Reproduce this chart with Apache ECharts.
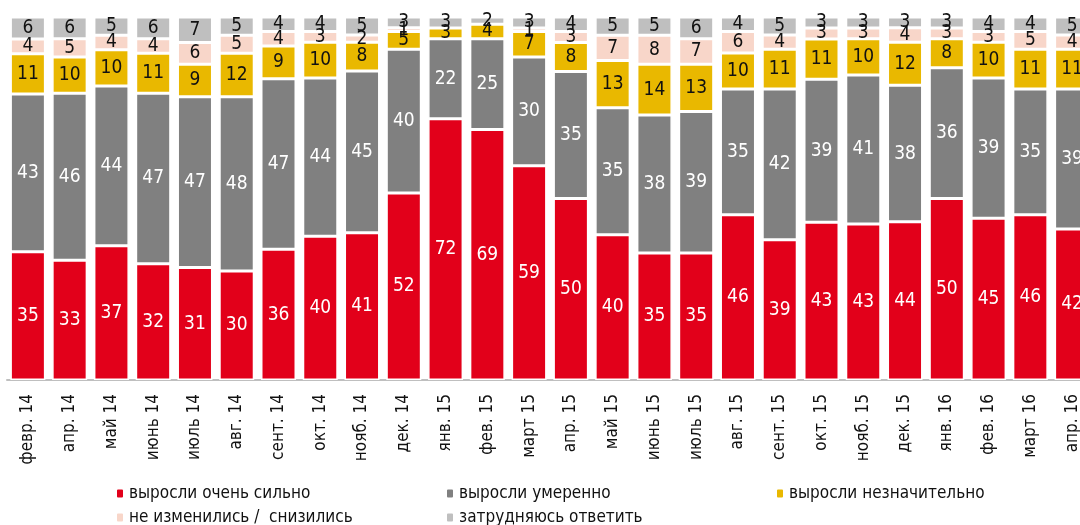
<!DOCTYPE html>
<html>
<head>
<meta charset="utf-8">
<script src="https://cdn.jsdelivr.net/npm/echarts@6/dist/echarts.min.js"></script>
<style>
html, body { margin: 0; padding: 0; background: #fff; overflow: hidden; }
/* canvas is wider than the window so the last bar gets cut like in the source */
#container { width: 1095px; height: 525px; }
</style>
</head>
<body>
<div id="container"></div>
<script>
var categories = ['февр. 14', 'апр. 14', 'май 14', 'июнь 14', 'июль 14', 'авг. 14', 'сент. 14', 'окт. 14', 'нояб. 14', 'дек. 14',
    'янв. 15', 'фев. 15', 'март 15', 'апр. 15', 'май 15', 'июнь 15', 'июль 15', 'авг. 15', 'сент. 15', 'окт. 15',
    'нояб. 15', 'дек. 15', 'янв. 16', 'фев. 16', 'март 16', 'апр. 16'];
var veryStrong = [35, 33, 37, 32, 31, 30, 36, 40, 41, 52, 72, 69, 59, 50, 40, 35, 35, 46, 39, 43, 43, 44, 50, 45, 46, 42];
var moderate = [43, 46, 44, 47, 47, 48, 47, 44, 45, 40, 22, 25, 30, 35, 35, 38, 39, 35, 42, 39, 41, 38, 36, 39, 35, 39];
var slight = [11, 10, 10, 11, 9, 12, 9, 10, 8, 5, 3, 4, 7, 8, 13, 14, 13, 10, 11, 11, 10, 12, 8, 10, 11, 11];
var noChange = [4, 5, 4, 4, 6, 5, 4, 3, 2, 1, 0, 0, 1, 3, 7, 8, 7, 6, 4, 3, 3, 4, 3, 3, 5, 4];
var hardToSay = [6, 6, 5, 6, 7, 5, 4, 4, 5, 3, 3, 2, 3, 4, 5, 5, 6, 4, 5, 3, 3, 3, 3, 4, 4, 5];

var names = ['выросли очень сильно', 'выросли умеренно', 'выросли незначительно', 'не изменились /  снизились', 'затрудняюсь ответить'];
var colors = ['#e2001a', '#808080', '#e9b800', '#f8d6c9', '#bfbfbf'];
var labelColors = ['#fff', '#fff', '#111', '#111', '#111'];
var raw = [veryStrong, moderate, slight, noChange, hardToSay];

var font = '"Liberation Sans Narrow", "DejaVu Sans Condensed", "Noto Sans", sans-serif';

// 100% stacked: share of each answer in the bar total
var totals = categories.map(function (c, i) {
    var s = 0;
    for (var k = 0; k < raw.length; k++) s += raw[k][i];
    return s;
});

var dom = document.getElementById('container');
var myChart = echarts.init(dom);

var series = [];
for (var k = 0; k < raw.length; k++) {
    (function (k) {
        series.push({
            name: names[k],
            type: 'bar',
            stack: 'all',
            barWidth: 35,
            itemStyle: { color: colors[k], borderColor: '#fff', borderWidth: 1.5 },
            label: {
                show: true,
                position: 'inside',
                color: labelColors[k],
                fontFamily: font,
                fontSize: 19,
                formatter: function (p) {
                    var v = raw[k][p.dataIndex];
                    return v ? String(v) : '';
                }
            },
            data: raw[k].map(function (v, i) { return v / totals[i] * 100; })
        });
    })(k);
}

var legendPos = [[110, 480], [440, 480], [770, 480], [110, 504], [440, 504]];
var legends = names.map(function (n, i) {
    return {
        data: [n],
        left: legendPos[i][0],
        top: legendPos[i][1],
        itemWidth: 8,
        itemHeight: 10,
        itemGap: 0,
        textStyle: { fontFamily: font, fontSize: 17, color: '#111' },
        selectedMode: false
    };
});

var option = {
    animation: false,
    grid: { left: 7, width: 1086, top: 17, bottom: 145 },
    legend: legends,
    xAxis: {
        type: 'category',
        data: categories,
        axisLine: { lineStyle: { color: '#bfbfbf', width: 2 } },
        axisTick: { length: 7, lineStyle: { color: '#bfbfbf', width: 2 } },
        axisLabel: { rotate: 90, margin: 14, fontSize: 17, color: '#111', fontFamily: font, interval: 0 }
    },
    yAxis: { type: 'value', min: 0, max: 100, show: false },
    series: series
};

myChart.setOption(option);
</script>
</body>
</html>
